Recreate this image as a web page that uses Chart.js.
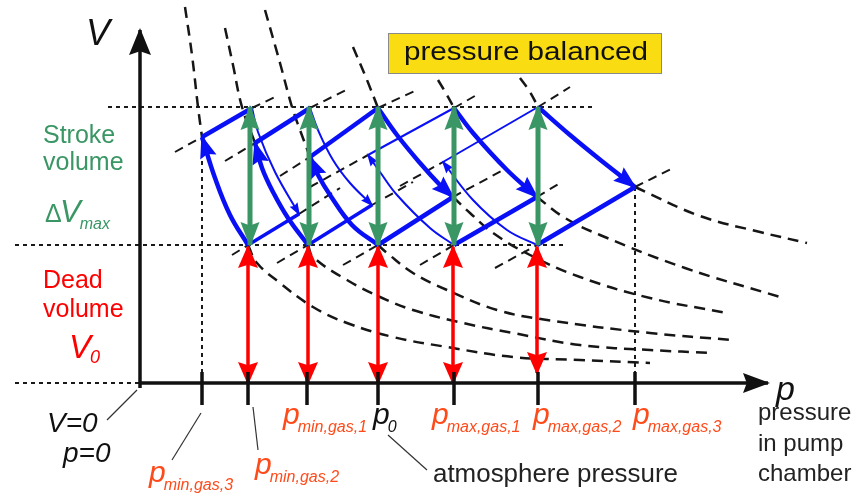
<!DOCTYPE html>
<html>
<head>
<meta charset="utf-8">
<title>p-V diagram of pump cycles</title>
<script src="https://cdn.jsdelivr.net/npm/chart.js@4.4.1/dist/chart.umd.min.js"></script>
<style>
  html, body { margin: 0; padding: 0; background: #fff; }
  canvas { display: block; }
</style>
</head>
<body>
<canvas id="pv-chart" width="854" height="494"></canvas>
<script>
// p-V diagram of a displacement pump, drawn with Chart.js (scatter + lines)

// axis ranges, p and V in arbitrary units (origin: p=0, V=0)
const pRange = [-1.40, 7.14];
const vRange = [-1.11, 3.83];
const pAxisEnd = 6.28;
const vAxisEnd = 3.53;

// ticks on the p axis
const pTicks = [0.62, 1.08, 1.67, 2.38, 3.14, 3.98, 4.95];
const pTickSubs = ['min,gas,3', 'min,gas,2', 'min,gas,1', '0', 'max,gas,1', 'max,gas,2', 'max,gas,3'];

// dead volume V0 and V0 + stroke volume
const vLevels = [1.38, 2.76];
const vGuideFrom = [-1.25, -0.32];
const vGuideTo = [4.27, 4.55];

// corners of the five cycles: A bottom, B upper left, C top, D right
const cornerA = [[1.08, 1.38], [1.68, 1.38], [2.38, 1.38], [3.14, 1.38], [3.97, 1.38]];
const cornerB = [[0.62, 2.46], [1.15, 2.40], [1.70, 2.26], [2.28, 2.28], [3.03, 2.21]];
const cornerC = [[1.12, 2.75], [1.70, 2.75], [2.38, 2.75], [3.14, 2.75], [3.98, 2.76]];
const cornerD = [[1.59, 1.69], [2.32, 1.78], [3.13, 1.86], [3.97, 1.86], [4.95, 1.96]];

// inner points of the curved sides (A -> B on the left, C -> D on the right)
const leftMid = [
    [[0.90, 1.68], [0.75, 2.05]],
    [[1.48, 1.65], [1.33, 1.91], [1.22, 2.15]],
    [[2.12, 1.58], [1.90, 1.88], [1.78, 2.08]],
    [[2.90, 1.55], [2.57, 1.88], [2.40, 2.11]],
    [[3.67, 1.53], [3.33, 1.83]]
];
const rightMid = [
    [[1.18, 2.51], [1.35, 2.11]],
    [[1.78, 2.53], [1.93, 2.23], [2.10, 2.00]],
    [[2.57, 2.48], [2.80, 2.20], [3.00, 1.98]],
    [[3.33, 2.50], [3.67, 2.13]],
    [[4.30, 2.48], [4.63, 2.21]]
];

// isotherms: upper parts run down into B1, B2, B3, C3, C4, C5
const isoUpper = [
    [[0.45, 3.76], [0.52, 3.28], [0.58, 2.76]],
    [[0.85, 3.55], [0.93, 3.18], [1.02, 2.76]],
    [[1.25, 3.73], [1.40, 3.20], [1.52, 2.76], [1.60, 2.53]],
    [[2.13, 3.36], [2.27, 3.03]],
    [[2.98, 3.03], [3.07, 2.88]],
    [[3.80, 3.05], [3.90, 2.91]]
];
// lower parts leave A1, A2, A3, D3, D4, D5
const isoLower = [
    [[1.17, 1.20], [1.40, 1.00], [1.73, 0.76], [2.07, 0.60], [2.53, 0.46], [3.07, 0.36], [3.73, 0.26], [4.40, 0.23], [5.10, 0.20]],
    [[1.73, 1.26], [2.07, 1.03], [2.40, 0.86], [2.73, 0.73], [3.23, 0.60], [3.73, 0.50], [4.40, 0.38], [5.10, 0.33], [5.73, 0.30]],
    [[2.47, 1.30], [2.73, 1.10], [3.07, 0.93], [3.57, 0.73], [4.07, 0.63], [5.10, 0.50], [5.93, 0.43]],
    [[3.30, 1.70], [3.53, 1.50], [3.90, 1.28], [4.40, 1.06], [5.10, 0.85], [5.87, 0.70]],
    [[4.25, 1.65], [4.60, 1.48], [5.45, 1.15], [6.40, 0.86]],
    [[5.60, 1.67], [6.20, 1.51], [6.67, 1.40]]
];

// straight dashed continuations of the cycle edges
const bLeftExt = [[0.35, 2.31], [0.85, 2.22], [1.40, 2.07], [1.70, 1.96], [2.60, 1.97]];
const cTopExt = [[1.35, 2.86], [2.10, 2.95], [2.77, 2.93], [3.40, 2.90], [4.30, 2.96]];
const aLeftExt = [[0.92, 1.28], [1.37, 1.20], [2.03, 1.18], [2.80, 1.18], [3.55, 1.15]];
const dRightExt = [[2.00, 1.95], [2.73, 2.01], [3.67, 2.15], [4.20, 2.00], [5.33, 2.15]];

// stroke volume (green) and dead volume (red) arrows
const strokeArrowP = [1.10, 1.69, 2.38, 3.14, 3.98];
const deadArrowP = [1.08, 1.68, 2.38, 3.13, 3.97];
const deadArrowLow = [0, 0, 0, 0, 0.10];

// which cycle edges are drawn heavy
const leftHeavy = [true, true, true, false, false];
const topHeavy = [true, true, true, false, false];
const rightHeavy = [false, false, true, true, true];

const FONT = '"Liberation Sans", Arial, sans-serif';
const BLUE = '#0a10f5';
const GREEN = '#3a9664';
const RED = '#ff0000';
const ORANGE = '#ff4a1a';
const INK = '#111111';

const datasets = [];
const pt = ([p, v]) => ({ x: p, y: v });

function addLine(points, style) {
    datasets.push(Object.assign({
        data: points.map(pt),
        showLine: true,
        pointRadius: 0,
        pointHoverRadius: 0,
        fill: false,
        tension: 0
    }, style));
}

const bigHead = { end: true, len: 21, half: 8.5 };
const smallHead = { end: true, len: 11, half: 4.5 };

// isotherms
const isoUpperEnd = [cornerB[0], cornerB[1], cornerB[2], cornerC[2], cornerC[3], cornerC[4]];
const isoLowerStart = [cornerA[0], cornerA[1], cornerA[2], cornerD[2], cornerD[3], cornerD[4]];
const isoStyle = { borderColor: '#161616', borderWidth: 2.5, borderDash: [11, 7], tension: 0.4, order: 6 };
isoUpper.forEach((pts, i) => addLine([...pts, isoUpperEnd[i]], isoStyle));
isoLower.forEach((pts, i) => addLine([isoLowerStart[i], ...pts], isoStyle));

// straight dashed lines
const extStyle = { borderColor: '#161616', borderWidth: 2, borderDash: [9, 6], order: 6 };
for (let i = 0; i < 5; i++) {
    addLine([bLeftExt[i], cornerB[i]], extStyle);
    addLine([cornerC[i], cTopExt[i]], extStyle);
    addLine([aLeftExt[i], cornerA[i]], extStyle);
    addLine([cornerD[i], dRightExt[i]], extStyle);
}

// dotted guides
const dotStyle = { borderColor: '#1a1a1a', borderWidth: 2, borderDash: [4, 4], order: 5 };
vLevels.forEach((v, i) => addLine([[vGuideFrom[i], v], [vGuideTo[i], v]], dotStyle));
addLine([[vGuideFrom[0], 0], [0, 0]], dotStyle);
addLine([cornerB[0], [cornerB[0][0], 0]], dotStyle);
addLine([cornerD[4], [cornerD[4][0], 0]], dotStyle);

// the cycles
for (let i = 0; i < 5; i++) {
    const heavy = 4.5, light = 2;
    addLine([cornerA[i], ...leftMid[i], cornerB[i]], {
        borderColor: BLUE, borderWidth: leftHeavy[i] ? heavy : light, tension: 0.4, order: 4,
        head: leftHeavy[i] ? bigHead : smallHead
    });
    addLine([cornerB[i], cornerC[i]], { borderColor: BLUE, borderWidth: topHeavy[i] ? heavy : light, order: 4 });
    addLine([cornerC[i], ...rightMid[i], cornerD[i]], {
        borderColor: BLUE, borderWidth: rightHeavy[i] ? heavy : light, tension: 0.4, order: 4,
        head: rightHeavy[i] ? bigHead : smallHead
    });
    addLine([cornerA[i], cornerD[i]], { borderColor: BLUE, borderWidth: i < 2 ? 3.5 : heavy, order: 4 });
}

// stroke volume and dead volume arrows
strokeArrowP.forEach(p => addLine([[p, vLevels[0]], [p, vLevels[1]]], {
    borderColor: GREEN, borderWidth: 5, order: 3, head: { start: true, end: true, len: 23, half: 9.5 }
}));
deadArrowP.forEach((p, i) => addLine([[p, vLevels[0] - 0.02], [p, deadArrowLow[i]]], {
    borderColor: RED, borderWidth: 3.5, order: 2, head: { start: true, end: true, len: 21, half: 10 }
}));

// axes and ticks
addLine([[0, 0], [pAxisEnd, 0]], { borderColor: INK, borderWidth: 3.5, order: 1, head: { end: true, len: 25, half: 10 } });
addLine([[0, -0.05], [0, vAxisEnd]], { borderColor: INK, borderWidth: 3.5, order: 1, head: { end: true, len: 25, half: 11 } });
pTicks.forEach(p => addLine([[p, 0.11], [p, -0.22]], { borderColor: INK, borderWidth: 3.5, order: 1 }));

function drawHead(ctx, tip, from, head, color) {
    const ang = Math.atan2(tip.y - from.y, tip.x - from.x);
    ctx.save();
    ctx.translate(tip.x, tip.y);
    ctx.rotate(ang);
    ctx.beginPath();
    ctx.moveTo(2, 0);
    ctx.lineTo(-head.len, -head.half);
    ctx.lineTo(-head.len * 0.85, 0);
    ctx.lineTo(-head.len, head.half);
    ctx.closePath();
    ctx.fillStyle = color;
    ctx.fill();
    ctx.restore();
}

const arrowHeads = {
    id: 'arrowHeads',
    afterDatasetDraw(chart, args) {
        const ds = chart.data.datasets[args.index];
        if (!ds.head) return;
        const pts = args.meta.data;
        const n = pts.length;
        if (ds.head.end) drawHead(chart.ctx, pts[n - 1], pts[n - 2], ds.head, ds.borderColor);
        if (ds.head.start) drawHead(chart.ctx, pts[0], pts[1], ds.head, ds.borderColor);
    }
};

// draws one string, optionally stretched to a given width; returns its width
function text(ctx, str, x, y, size, color, italic, width) {
    ctx.font = (italic ? 'italic ' : '') + size + 'px ' + FONT;
    ctx.fillStyle = color;
    const w = ctx.measureText(str).width;
    if (!width) {
        ctx.fillText(str, x, y);
        return w;
    }
    ctx.save();
    ctx.translate(x, y);
    ctx.scale(width / w, 1);
    ctx.fillText(str, 0, 0);
    ctx.restore();
    return width;
}

function leader(ctx, x1, y1, x2, y2) {
    ctx.beginPath();
    ctx.moveTo(x1, y1);
    ctx.lineTo(x2, y2);
    ctx.strokeStyle = '#333';
    ctx.lineWidth = 1.2;
    ctx.stroke();
}

// label placement relative to each tick
const tickLabelDx = [-53, 7, -24, -5, -22, -5, -2];
const tickLabelY = [482, 474, 424, 424, 424, 424, 424];

const labels = {
    id: 'labels',
    afterDraw(chart) {
        const ctx = chart.ctx;
        const X = v => chart.scales.x.getPixelForValue(v);
        const Y = v => chart.scales.y.getPixelForValue(v);
        ctx.save();
        ctx.textAlign = 'left';
        ctx.textBaseline = 'alphabetic';

        // note box
        ctx.fillStyle = '#f9dc12';
        ctx.fillRect(388.5, 33.5, 273, 40);
        ctx.strokeStyle = '#8a8a8a';
        ctx.lineWidth = 1;
        ctx.strokeRect(388.5, 33.5, 273, 40);
        text(ctx, 'pressure balanced', 404, 60, 26, INK, false, 244);

        // axis names
        text(ctx, 'V', X(0) - 54, Y(vAxisEnd) + 15, 36, INK, true);
        text(ctx, 'p', X(pAxisEnd) + 8, Y(0) + 17, 34, INK, true);
        ['pressure', 'in pump', 'chamber'].forEach((s, i) => text(ctx, s, 758, 420 + i * 30.5, 24, '#222', false));

        // origin
        text(ctx, 'V=0', 47, 432, 28, INK, true);
        text(ctx, 'p=0', 63, 462, 28, INK, true);
        leader(ctx, X(0) - 3, Y(0) + 7, 107, 420);

        // tick labels
        pTicks.forEach((p, i) => {
            const x = X(p) + tickLabelDx[i];
            const col = i === 3 ? INK : ORANGE;
            const w = text(ctx, 'p', x, tickLabelY[i], 30, col, true);
            text(ctx, pTickSubs[i], x + w - 2, tickLabelY[i] + 8, 16, col, true);
        });
        leader(ctx, X(pTicks[0]) - 1, Y(0) + 30, 172, 460);
        leader(ctx, X(pTicks[1]) + 5, Y(0) + 24, 258, 450);
        leader(ctx, X(pTicks[3]) + 10, Y(0) + 52, 427, 470);
        text(ctx, 'atmosphere pressure', 433, 482, 25, '#222', false, 245);

        // stroke volume
        text(ctx, 'Stroke', 43, 143, 25, GREEN, false);
        text(ctx, 'volume', 43, 170, 25, GREEN, false);
        text(ctx, '\u0394', 45, 222, 25, GREEN, false);
        const wv = text(ctx, 'V', 60, 222, 31, GREEN, true);
        text(ctx, 'max', 60 + wv - 1, 229, 16, GREEN, true);

        // dead volume
        text(ctx, 'Dead', 43, 288, 25, RED, false);
        text(ctx, 'volume', 43, 317, 25, RED, false);
        const w0 = text(ctx, 'V', 69, 358, 33, RED, true);
        text(ctx, '0', 69 + w0 - 1, 363, 18, RED, true);

        ctx.restore();
    }
};

new Chart(document.getElementById('pv-chart'), {
    type: 'scatter',
    data: { datasets },
    options: {
        responsive: false,
        animation: false,
        events: [],
        layout: { padding: 0 },
        plugins: { legend: { display: false }, tooltip: { enabled: false } },
        scales: {
            x: { type: 'linear', min: pRange[0], max: pRange[1], display: false },
            y: { type: 'linear', min: vRange[0], max: vRange[1], display: false }
        }
    },
    plugins: [arrowHeads, labels]
});
</script>
</body>
</html>
